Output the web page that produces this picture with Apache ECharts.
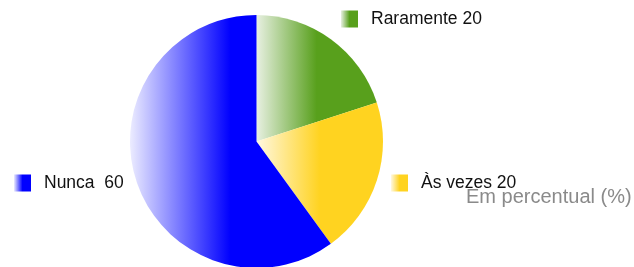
<!DOCTYPE html>
<html>
<head>
<meta charset="utf-8">
<script src="https://cdn.jsdelivr.net/npm/echarts@6/dist/echarts.min.js"></script>
<style>
  html, body { margin: 0; padding: 0; background: #fff; }
  #main { width: 634px; height: 267px; }
</style>
</head>
<body>
<div id="main"></div>
<script>
// dados do grafico
var categorias = ['Raramente', 'Às vezes', 'Nunca'];
var valores = [20, 20, 60];
var rotulos = ['Raramente 20', 'Às vezes 20', 'Nunca  60'];
var subtitulo = 'Em percentual (%)';

// cor clara -> cor cheia (gradiente horizontal)
var cores = [
    ['#e8f0e2', '#58a01c'],
    ['#fff8e2', '#ffd320'],
    ['#ececff', '#0000ff']
];
// posicao de cada legenda
var posLegenda = [
    { left: 341, top: 10 },
    { left: 391, top: 174 },
    { left: 14, top: 174 }
];

function grad(c) {
    return new echarts.graphic.LinearGradient(0, 0, 1, 0, [
        { offset: 0, color: c[0] },
        { offset: 0.5, color: c[1] },
        { offset: 1, color: c[1] }
    ]);
}

var dados = [];
var legendas = [];
for (var i = 0; i < categorias.length; i++) {
    dados.push({ name: categorias[i], value: valores[i], itemStyle: { color: grad(cores[i]) } });
    legendas.push({
        left: posLegenda[i].left,
        top: posLegenda[i].top,
        padding: 0,
        orient: 'horizontal',
        icon: 'rect',
        itemWidth: 17,
        itemHeight: 17,
        selectedMode: false,
        data: [categorias[i]],
        formatter: (function (k) { return function () { return rotulos[k]; }; })(i),
        textStyle: {
            fontFamily: 'Liberation Sans, Arial, sans-serif',
            fontSize: 17.5,
            color: '#111',
            padding: [0, 0, 0, 8]
        }
    });
}

var myChart = echarts.init(document.getElementById('main'));
var option = {
    animation: false,
    backgroundColor: '#fff',
    title: {
        text: subtitulo,
        left: 466,
        top: 187,
        padding: 0,
        textStyle: {
            fontFamily: 'Liberation Sans, Arial, sans-serif',
            fontSize: 20,
            fontWeight: 'normal',
            color: '#8a8a8a'
        }
    },
    legend: legendas,
    series: [
        {
            type: 'pie',
            center: [256.5, 141.5],
            radius: 126.5,
            startAngle: 90,
            clockwise: true,
            label: { show: false },
            labelLine: { show: false },
            emphasis: { disabled: true },
            itemStyle: { borderWidth: 0 },
            data: dados
        }
    ]
};
myChart.setOption(option);
</script>
</body>
</html>
